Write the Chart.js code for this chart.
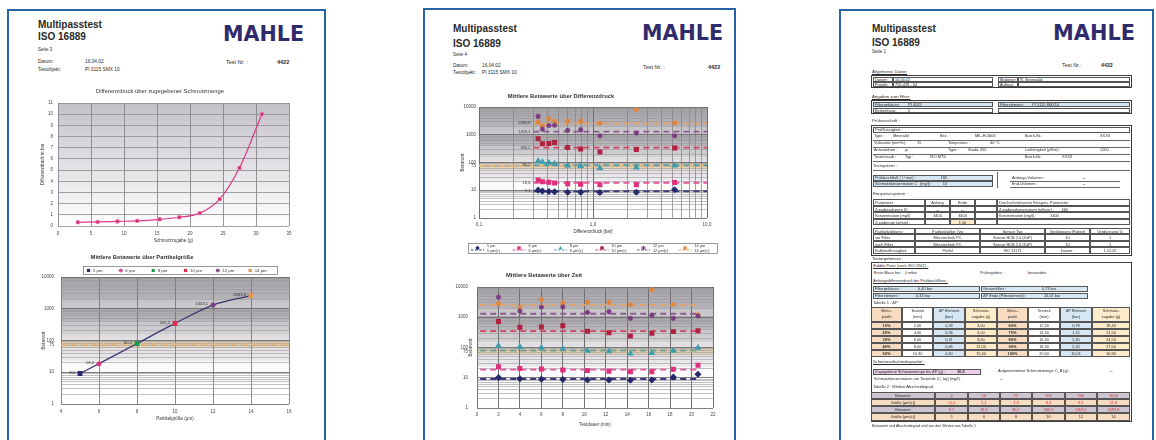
<!DOCTYPE html>
<html lang="de">
<head>
<meta charset="utf-8">
<title>Multipasstest ISO 16889</title>
<script src="https://cdn.jsdelivr.net/npm/chart.js@4.4.1/dist/chart.umd.min.js"></script>
<style>
  html, body { margin:0; padding:0; background:#fff; }
  body { position:relative; width:1156px; height:440px; overflow:hidden; font-family:"Liberation Sans", Arial, sans-serif; color:#2a2a2a; }
  .page { position:absolute; box-sizing:border-box; border:2px solid #2863a5; border-bottom:none; height:460px; background:#fff; }
  .t { position:absolute; white-space:nowrap; line-height:1.15; }
  .bx { position:absolute; box-sizing:border-box; overflow:hidden; white-space:nowrap; }
  .logo { position:absolute; font-family:"DejaVu Sans", sans-serif; font-weight:bold; line-height:1; color:#302b6c; transform-origin:0 0; white-space:nowrap; }
  canvas { position:absolute; }
</style>
</head>
<body>
<div class="page" style="left:7px;top:9px;width:319px"></div>
<div class="page" style="left:423px;top:8px;width:313px"></div>
<div class="page" style="left:839px;top:9px;width:315px"></div>
<canvas id="c1" width="270" height="165" style="left:30px;top:86px"></canvas>
<canvas id="c2" width="270" height="178" style="left:30px;top:248px"></canvas>
<canvas id="c3" width="285" height="172" style="left:440px;top:86px"></canvas>
<canvas id="c4" width="285" height="168" style="left:440px;top:266px"></canvas>
<script>
// ---------- test data ----------
const testTime  = [2.0, 4.0, 6.0, 8.0, 10.3, 12.3, 14.3, 16.3, 18.3, 20.6];        // min
const dirtAdded = [3.0, 6.0, 9.0, 12.0, 15.4, 18.4, 21.5, 24.5, 27.5, 30.9];       // g
const deltaP    = [0.33, 0.36, 0.41, 0.46, 0.60, 0.78, 1.15, 2.40, 5.20, 10.01];   // bar

const particleSizes = [5, 6, 8, 10, 12, 14];
const sizeNames = ['5 µm', '6 µm', '8 µm', '10 µm', '12 µm', '14 µm'];
const betaMean = [9.1, 18.6, 80.2, 345.2, 1303.1, 2583.8];
const betaTarget = 75;

// beta value per particle size at each measuring point
const beta5  = [10.1, 9.3, 9.0, 8.8, 8.4, 8.4, 8.3, 8.4, 10.5, 13.0];
const beta6  = [23.2, 20.3, 19.3, 18.1, 17.2, 16.5, 15.9, 15.9, 19.0, 26.0];
const beta8  = [114, 105, 98, 90, 78, 75, 63, 66, 78, 98];
const beta10 = [720, 470, 480, 525, 345, 305, 240, 295, 335, 355];
const beta12 = [4600, 1600, 2150, 2200, 1450, 1530, 915, 1150, 915, 1100];
const beta14 = [2850, 2070, 3800, 3000, 3100, 3100, 2600, 8100, 2650, 1200];
const betaSeries = [beta5, beta6, beta8, beta10, beta12, beta14];

// axis tick labels
const betaTickValues = [1, 10, 75, 100, 1000, 10000];
const betaTickLabels = ['1', '10', '75', '100', '1000', '10000'];
const dpLogTickValues = [0.1, 1, 10];
const dpLogTickLabels = ['0,1', '1,0', '10,0'];

// table 2 (mean filtration ratio)
const betaLevels = ['2', '10', '75', '100', '200', '1000'];
const sizeAtBeta = ['<5,0', '5,1', '7,9', '8,3', '9,1', '11,6'];

// ---------- styles ----------
const FONT = 'Liberation Sans';
Chart.defaults.font.family = FONT;
Chart.defaults.color = '#444';
const sizeColors = ['#27286f', '#e0307e', '#1f9a4f', '#e02a4c', '#7d3b83', '#e8954c'];
const sizeStyles = ['rect', 'star', 'rect', 'rect', 'star', 'rect'];
const betaColors = ['#26276c', '#e02f7c', '#3a9eab', '#b0223f', '#7a3a80', '#e0843c'];
const betaStyles = ['rectRot', 'rect', 'triangle', 'rect', 'star', 'star'];
const meanColors = ['#383a80', '#e4589a', '#5aa3ad', '#cf4560', '#8c5c91', '#e3a066'];
const targetColor = '#e9b878';
const betaBands = [
  { from: 2000, to: 10000, c0: '#a7a5a9', c1: '#b5b3b7' },
  { from: 1100, to: 2000,  c0: '#c4c2c6', c1: '#cccacd' },
  { from: 400,  to: 1100,  c0: '#aaa8ac', c1: '#b9b7bb' },
  { from: 150,  to: 400,   c0: '#c7c5c9', c1: '#d3d1d4' },
  { from: 100,  to: 150,   c0: '#dddbdd', c1: '#e4e2e4' },
  { from: 55,   to: 100,   c0: '#dac7aa', c1: '#e7d9c4' },
  { from: 22,   to: 55,    c0: '#e3e1e4', c1: '#ecebed' },
  { from: 1,    to: 22,    c0: '#fafafa', c1: '#ffffff' }
];

const de = (v, d) => v.toFixed(d).replace('.', ',');
const isDecade = v => Math.abs(Math.log10(v) - Math.round(Math.log10(v))) < 1e-9;
const labelOf = (v, vals, labels) => {
  const i = vals.findIndex(u => Math.abs(u - v) / u < 1e-6);
  return i >= 0 ? labels[i] : '';
};
function decadeTicks(min, max) {
  const out = [];
  for (let e = Math.floor(Math.log10(min) + 1e-9); Math.pow(10, e) <= max * 1.0001; e++) {
    for (let m = 1; m <= 9; m++) {
      const v = parseFloat((m * Math.pow(10, e)).toPrecision(6));
      if (v >= min * 0.9999 && v <= max * 1.0001) out.push(v);
    }
  }
  return out;
}

// ---------- plugins ----------
const plotBackground = {
  id: 'plotBackground',
  beforeDraw(chart, args, o) {
    const { ctx, chartArea: a } = chart;
    ctx.save();
    if (o.gradient) {
      const g = ctx.createLinearGradient(0, a.top, 0, a.bottom);
      g.addColorStop(0, o.gradient[0]);
      g.addColorStop(1, o.gradient[1]);
      ctx.fillStyle = g;
      ctx.fillRect(a.left, a.top, a.width, a.height);
    }
    if (o.bands) {
      const y = chart.scales.y;
      o.bands.forEach(b => {
        const y0 = y.getPixelForValue(b.to), y1 = y.getPixelForValue(b.from);
        const g = ctx.createLinearGradient(0, y0, 0, y1);
        g.addColorStop(0, b.c0);
        g.addColorStop(1, b.c1);
        ctx.fillStyle = g;
        ctx.fillRect(a.left, y0, a.width, y1 - y0);
      });
    }
    ctx.restore();
  }
};

function drawMarker(ctx, style, x, y, r, color) {
  ctx.save();
  ctx.fillStyle = color; ctx.strokeStyle = color; ctx.lineWidth = 1;
  ctx.beginPath();
  if (style === 'rect') { ctx.rect(x - r, y - r, 2 * r, 2 * r); ctx.fill(); }
  else if (style === 'rectRot') { ctx.moveTo(x, y - r * 1.3); ctx.lineTo(x + r * 1.3, y); ctx.lineTo(x, y + r * 1.3); ctx.lineTo(x - r * 1.3, y); ctx.closePath(); ctx.fill(); }
  else if (style === 'triangle') { ctx.moveTo(x, y - r * 1.2); ctx.lineTo(x + r * 1.1, y + r * 0.8); ctx.lineTo(x - r * 1.1, y + r * 0.8); ctx.closePath(); ctx.fill(); }
  else if (style === 'star') {
    for (let k = 0; k < 4; k++) {
      const a = k * Math.PI / 4;
      ctx.moveTo(x + Math.cos(a) * r * 1.3, y + Math.sin(a) * r * 1.3);
      ctx.lineTo(x - Math.cos(a) * r * 1.3, y - Math.sin(a) * r * 1.3);
    }
    ctx.stroke();
  } else { ctx.arc(x, y, r, 0, 2 * Math.PI); ctx.fill(); }
  ctx.restore();
}

// framed legend drawn from the datasets that carry a legendText
const boxLegend = {
  id: 'boxLegend',
  afterDraw(chart, args, o) {
    const { ctx } = chart;
    const items = chart.data.datasets.filter(d => d.legendText);
    ctx.save();
    ctx.fillStyle = '#fff';
    ctx.fillRect(o.left, o.top, o.width, o.height);
    ctx.strokeStyle = '#707070'; ctx.lineWidth = 0.7;
    ctx.strokeRect(o.left + 0.5, o.top + 0.5, o.width, o.height);
    const step = o.width / items.length;
    ctx.font = `${o.fontSize}px ${FONT}`;
    ctx.textBaseline = 'middle';
    items.forEach((d, i) => {
      const x0 = o.left + i * step + o.inset;
      const cy = o.top + o.height / 2 + 0.5;
      if (o.line) {
        ctx.strokeStyle = d.meanColor; ctx.lineWidth = 1.1; ctx.setLineDash([2.5, 1.5]);
        ctx.beginPath(); ctx.moveTo(x0, cy + 1.5); ctx.lineTo(x0 + o.symbolWidth, cy + 1.5); ctx.stroke();
        ctx.setLineDash([]);
        drawMarker(ctx, d.pointStyle, x0 + o.symbolWidth / 2, cy - 0.5, 1.7, d.pointBackgroundColor);
      } else {
        drawMarker(ctx, d.pointStyle, x0 + 1.5, cy, 1.6, d.pointBackgroundColor);
      }
      ctx.fillStyle = '#333';
      const lines = Array.isArray(d.legendText) ? d.legendText : [d.legendText];
      lines.forEach((s, k) => ctx.fillText(s, x0 + o.textOffset, cy + (k - (lines.length - 1) / 2) * o.fontSize * 1.1));
    });
    ctx.restore();
  }
};

// value text placed left of the first element of a dataset
const valueLabels = {
  id: 'valueLabels',
  afterDatasetsDraw(chart, args, o) {
    const { ctx } = chart;
    ctx.save();
    ctx.font = `${o.fontSize}px ${FONT}`;
    ctx.fillStyle = '#333';
    ctx.textAlign = 'right';
    ctx.textBaseline = 'middle';
    chart.data.datasets.forEach((d, i) => {
      if (!d.valueLabel) return;
      const el = chart.getDatasetMeta(i).data[0];
      ctx.fillText(d.valueLabel, el.x - o.gap, el.y + (o.dy || 0));
    });
    ctx.restore();
  }
};

const tickFont = { size: 4.5 };
const axisTitleFont = { size: 4.5 };

function betaAxis(width, titlePad, tickPad) {
  return {
    type: 'logarithmic', min: 1, max: 10000,
    afterBuildTicks: s => {
      const vals = decadeTicks(1, 10000);
      if (!vals.includes(betaTarget)) vals.push(betaTarget);
      s.ticks = vals.sort((a, b) => a - b).map(v => ({ value: v }));
    },
    afterFit: s => { s.width = width; },
    ticks: { autoSkip: false, padding: tickPad, font: tickFont, color: '#444',
             callback: v => labelOf(v, betaTickValues, betaTickLabels) },
    grid: { drawTicks: false,
            color: c => c.tick.value === betaTarget ? 'rgba(0,0,0,0)' : (isDecade(c.tick.value) ? '#706e72' : '#99979b'),
            lineWidth: c => isDecade(c.tick.value) ? 0.9 : 0.6 },
    border: { display: false },
    title: { display: true, text: 'Betawert', font: axisTitleFont, color: '#333', padding: { top: titlePad, bottom: 0 } }
  };
}

const base = { responsive: false, animation: false, devicePixelRatio: 1, events: [] };

// ---------- chart 1: differential pressure over added contaminant ----------
new Chart(document.getElementById('c1'), {
  type: 'scatter',
  data: { datasets: [{
    data: dirtAdded.map((x, i) => ({ x, y: deltaP[i] })),
    showLine: true, borderColor: '#d8388a', borderWidth: 1.2, cubicInterpolationMode: 'monotone',
    pointStyle: 'rect', pointRadius: 2.4, pointBackgroundColor: '#d2206f', pointBorderColor: '#e98bb7', pointBorderWidth: 0.8
  }] },
  options: { ...base,
    layout: { padding: { top: 17, right: 11, left: 0, bottom: 0 } },
    plugins: { legend: { display: false }, tooltip: { enabled: false },
               plotBackground: { gradient: ['#c5c1c9', '#ffffff'] } },
    scales: {
      x: { type: 'linear', min: 0, max: 35, afterFit: s => { s.height = 25; },
           ticks: { stepSize: 5, padding: 5, font: tickFont, maxRotation: 0 },
           grid: { drawTicks: false, color: '#7d7b80', lineWidth: 0.8 }, border: { display: false },
           title: { display: true, text: 'Schmutzzugabe (g)', font: axisTitleFont, color: '#333', padding: { top: 0, bottom: 7.3 } } },
      y: { min: 0, max: 11, afterFit: s => { s.width = 28; },
           ticks: { stepSize: 1, padding: 5, font: tickFont },
           grid: { drawTicks: false, color: '#8e8c91', lineWidth: 0.8 }, border: { display: false },
           title: { display: true, text: 'Differenzdruck in bar', font: axisTitleFont, color: '#333', padding: { top: 10.3, bottom: 0 } } }
    }
  },
  plugins: [plotBackground]
});

// ---------- chart 2: mean beta values over particle size ----------
const c2Sets = particleSizes.map((s, i) => ({
  data: [{ x: s, y: betaMean[i] }],
  pointStyle: sizeStyles[i], pointRadius: 2.6, pointBorderWidth: 1.2,
  pointBackgroundColor: sizeColors[i], pointBorderColor: sizeColors[i],
  legendText: sizeNames[i], valueLabel: de(betaMean[i], 1)
}));
c2Sets.push({
  data: particleSizes.map((x, i) => ({ x, y: betaMean[i] })),
  showLine: true, borderColor: '#3d3873', borderWidth: 1.3, pointRadius: 0, cubicInterpolationMode: 'monotone'
});
c2Sets.push({
  data: [{ x: 4, y: betaTarget }, { x: 16, y: betaTarget }],
  showLine: true, borderColor: targetColor, borderWidth: 1.8, borderDash: [6, 4], pointRadius: 0
});
new Chart(document.getElementById('c2'), {
  type: 'scatter',
  data: { datasets: c2Sets },
  options: { ...base,
    layout: { padding: { top: 29, right: 11, left: 0, bottom: 0 } },
    plugins: { legend: { display: false }, tooltip: { enabled: false },
               plotBackground: { bands: betaBands },
               boxLegend: { left: 53, top: 18, width: 194, height: 8, fontSize: 4.3, inset: 4, textOffset: 6 },
               valueLabels: { fontSize: 4.2, gap: 5, dy: -1 } },
    scales: {
      x: { type: 'linear', min: 4, max: 16, afterFit: s => { s.height = 22; },
           ticks: { stepSize: 2, padding: 5.5, font: tickFont, maxRotation: 0 },
           grid: { drawTicks: false, color: '#6f6d72', lineWidth: 0.8 }, border: { display: false },
           title: { display: true, text: 'Partikelgröße (µm)', font: axisTitleFont, color: '#333', padding: { top: 0, bottom: 4.3 } } },
      y: betaAxis(31, 10.6, 7)
    }
  },
  plugins: [plotBackground, boxLegend, valueLabels]
});

// ---------- charts 3 and 4: beta values over differential pressure / time ----------
function betaScatterSets(xs, meanFrom, xMax, targetFrom, targetTo, withTexts) {
  const sets = betaSeries.map((vals, i) => ({
    data: xs.map((x, k) => ({ x, y: vals[k] })).filter(p => p.x <= xMax),
    pointStyle: betaStyles[i], pointRadius: 2.6, pointBorderWidth: 1.3,
    pointBackgroundColor: betaColors[i], pointBorderColor: betaColors[i],
    meanColor: meanColors[i], legendText: withTexts ? [sizeNames[i], sizeNames[i] + '(c)'] : null
  }));
  betaMean.forEach((m, i) => sets.push({
    data: [{ x: meanFrom, y: m }, { x: xMax, y: m }],
    showLine: true, borderColor: meanColors[i], borderWidth: 1.8, borderDash: [6, 4], pointRadius: 0,
    valueLabel: withTexts ? de(m, 1) : null
  }));
  sets.push({
    data: [{ x: targetFrom, y: betaTarget }, { x: targetTo, y: betaTarget }],
    showLine: true, borderColor: targetColor, borderWidth: 1.8, borderDash: [6, 4], pointRadius: 0
  });
  return sets;
}

new Chart(document.getElementById('c3'), {
  type: 'scatter',
  data: { datasets: betaScatterSets(deltaP, 0.3, 10, 0.1, 10, true) },
  options: { ...base,
    layout: { padding: { top: 21, right: 18, left: 0, bottom: 18 } },
    plugins: { legend: { display: false }, tooltip: { enabled: false },
               plotBackground: { bands: betaBands },
               boxLegend: { left: 28, top: 157, width: 249, height: 10, fontSize: 3.8, inset: 3, textOffset: 16, symbolWidth: 13, line: true },
               valueLabels: { fontSize: 4, gap: 3, dy: 0 } },
    scales: {
      x: { type: 'logarithmic', min: 0.1, max: 10,
           afterBuildTicks: s => { s.ticks = decadeTicks(0.1, 10).map(v => ({ value: v })); },
           afterFit: s => { s.height = 22; },
           ticks: { autoSkip: false, maxRotation: 0, padding: 4.5, font: tickFont,
                    callback: v => labelOf(v, dpLogTickValues, dpLogTickLabels) },
           grid: { drawTicks: false, color: c => isDecade(c.tick.value) ? '#5c5a5f' : '#7b797e',
                   lineWidth: c => isDecade(c.tick.value) ? 0.9 : 0.7 },
           border: { display: false },
           title: { display: true, text: 'Differenzdruck [bar]', font: axisTitleFont, color: '#333', padding: { top: 0, bottom: 5.3 } } },
      y: betaAxis(39, 20.3, 3)
    }
  },
  plugins: [plotBackground, boxLegend, valueLabels]
});

const lastTime = testTime[testTime.length - 1];
new Chart(document.getElementById('c4'), {
  type: 'scatter',
  data: { datasets: betaScatterSets(testTime, 0.3, lastTime, 0.3, lastTime, false) },
  options: { ...base,
    layout: { padding: { top: 21, right: 12, left: 0, bottom: 0 } },
    plugins: { legend: { display: false }, tooltip: { enabled: false },
               plotBackground: { bands: betaBands } },
    scales: {
      x: { type: 'linear', min: 0, max: 22, afterFit: s => { s.height = 26; },
           ticks: { stepSize: 2, padding: 4, font: tickFont, maxRotation: 0 },
           grid: { drawTicks: false, color: '#605e63', lineWidth: 0.9 }, border: { display: false },
           title: { display: true, text: 'Testdauer (min)', font: axisTitleFont, color: '#333', padding: { top: 0, bottom: 6.3 } } },
      y: betaAxis(37, 28, 9)
    }
  },
  plugins: [plotBackground]
});

// ---------- report pages (text) ----------
function el(cls, css, text) {
  const d = document.createElement('div');
  d.className = cls;
  Object.assign(d.style, css);
  if (text != null) d.textContent = text;
  document.body.appendChild(d);
  return d;
}
function txt(x, y, s, size = 4.2, f = '') {
  return el('t', { left: x + 'px', top: y + 'px', fontSize: size + 'px',
    fontWeight: f.includes('b') ? 'bold' : 'normal',
    textDecoration: f.includes('u') ? 'underline' : 'none',
    color: f.includes('r') ? '#d42a2a' : '#2a2a2a' }, s);
}
function box(x, y, w, h, bg = 'transparent', bw = 0.7, bc = '#3a3a3a') {
  return el('bx', { left: x + 'px', top: y + 'px', width: w + 'px', height: h + 'px', background: bg, border: `${bw}px solid ${bc}` });
}
function cell(x, y, w, h, s, o = {}) {
  const d = box(x, y, w, h, o.bg || 'transparent', o.bw == null ? 0.6 : o.bw, o.bc || '#555');
  if (s != null && s !== '') {
    d.innerHTML = s;
    Object.assign(d.style, { fontSize: (o.fs || 3.9) + 'px', lineHeight: (o.lh || h - 1.2) + 'px',
      textAlign: o.al || 'center', paddingLeft: o.al === 'left' ? '1px' : '0',
      color: o.red ? '#d42a2a' : '#2a2a2a', fontWeight: o.b ? 'bold' : 'normal' });
  }
  return d;
}
function hline(x, y, w, c = '#666') { el('bx', { left: x + 'px', top: y + 'px', width: w + 'px', height: '0.6px', background: c }); }
function logo(x, y, w, h) {
  const fs = h / 0.729;
  const d = el('logo', { left: x + 'px', top: (y - 0.117 * fs) + 'px', fontSize: fs + 'px' }, 'MAHLE');
  const wNow = d.getBoundingClientRect().width;
  d.style.transform = `scaleX(${w / wNow})`;
}
function header(x, titleTop, isoTop, seiteTop, seite) {
  txt(x, titleTop, 'Multipasstest', 10, 'b');
  txt(x, isoTop, 'ISO 16889', 10, 'b');
  txt(x, seiteTop, seite, 4.5);
}

// page 3 of the report
header(38, 19, 31, 47, 'Seite 3');
txt(38, 59, 'Datum:', 4.8); txt(85, 59, '16.04.02', 4.8);
txt(38, 67, 'Testobjekt:', 4.8); txt(85, 67, 'PI 3115 SMX 10', 4.8);
txt(226, 59, 'Test Nr. :', 5.5); txt(277, 59, '4422', 5.5, 'b');
logo(223, 26, 81, 16);
el('t', { left: '60px', width: '200px', top: '87.8px', fontSize: '5.8px', textAlign: 'center', color: '#333' }, 'Differenzdruck über zugegebener Schmutzmenge');
el('t', { left: '42px', width: '200px', top: '254.3px', fontSize: '5.8px', textAlign: 'center', color: '#333', fontWeight: 'bold' }, 'Mittlere Betawerte über Partikelgröße');

// page 4 of the report
header(453, 23, 38, 52, 'Seite 4');
txt(453, 63, 'Datum:', 4.8); txt(482, 63, '16.04.02', 4.8);
txt(453, 70, 'Testobjekt:', 4.8); txt(482, 70, 'PI 3115 SMX 10', 4.8);
txt(643, 64, 'Test Nr. :', 5.5); txt(708, 64, '4422', 5.5, 'b');
logo(642, 25, 81, 15);
el('t', { left: '461px', width: '200px', top: '92.8px', fontSize: '5.8px', textAlign: 'center', color: '#333', fontWeight: 'bold' }, 'Mittlere Betawerte über Differenzdruck');
el('t', { left: '444px', width: '200px', top: '271.8px', fontSize: '5.8px', textAlign: 'center', color: '#333', fontWeight: 'bold' }, 'Mittlere Betawerte über Zeit');

// page 1 of the report: test data sheet
header(872, 23, 37, 49, 'Seite 1');
txt(1062, 62, 'Test Nr.:', 5.3); txt(1101, 62, '4422', 5.3, 'b');
logo(1053, 25, 82, 16);

const BLUE = '#d6e7f3', PINK = '#ecd0ea', PEACH = '#f8dcc2', YELLOW = '#fdebc9', GREY = '#cdc6d2';

txt(872, 70, 'Allgemeine Daten:', 4.3, 'u');
box(871, 75, 261, 13, '#fff', 0.9);
cell(873, 76.5, 20, 5, 'Datum:', { al: 'left' }); cell(893, 76.5, 100, 5, '16.04.02', { al: 'left' });
cell(998, 76.5, 20, 5, 'Bediener:', { al: 'left' }); cell(1018, 76.5, 112, 5, 'R. Sennwald', { al: 'left' });
cell(873, 82, 20, 5, 'Projekt:', { al: 'left' }); cell(893, 82, 100, 5, '750-428 - 04', { al: 'left' });
cell(998, 82, 20, 5, 'Auftrag:', { al: 'left' }); cell(1018, 82, 112, 5, '', {});

txt(872, 95, 'Angaben zum Filter:', 4.3, 'u');
box(871, 100, 261, 14, '#fff', 0.9);
cell(873, 101.5, 120, 5.5, 'Filtergehäuse: &nbsp;&nbsp;&nbsp;&nbsp;&nbsp;&nbsp; PI 4015', { al: 'left', bg: BLUE });
cell(998, 101.5, 132, 5.5, 'Filterelement: &nbsp;&nbsp;&nbsp;&nbsp;&nbsp;&nbsp; PI 3115 SMX10', { al: 'left', bg: BLUE });
cell(873, 107.5, 120, 5.5, 'Bemerkung: &nbsp;&nbsp;&nbsp;&nbsp;&nbsp;&nbsp;&nbsp;&nbsp;&nbsp; 5', { al: 'left' });
cell(998, 107.5, 132, 5.5, '', {});

txt(872, 119, 'Prüfvorschrift :', 4.3);
box(871, 125, 261, 131, '#fff', 0.9);
cell(873, 127, 257, 5.5, 'Prüfflüssigkeit :', { al: 'left', fs: 4.1 });
[[134, [[874, 'Type :'], [893, 'Mineralöl'], [940, 'Bez. :'], [975, 'MIL-H-5606'], [1025, 'Batch-Nr.:'], [1100, 'XXXX']]],
 [141, [[874, 'Viskosität (mm²/s) :'], [917, '15'], [948, 'Temperatur :'], [990, '40 °C']]],
 [148, [[874, 'Antistatikum :'], [905, 'ja'], [948, 'Type :'], [968, 'Stadis 450'], [1025, 'Leitfähigkeit (pS/m) :'], [1100, '1200']]],
 [155, [[874, 'Testerstaub :'], [905, 'Typ :'], [930, 'ISO MTD'], [1025, 'Batch-Nr.:'], [1062, 'XXXX']]]
].forEach(([y, items]) => { items.forEach(([x, s]) => txt(x, y, s, 3.9)); hline(873, y + 5.5, 257); });
txt(873, 164, 'Testsystem :', 4.3);
hline(873, 170, 257);
cell(873, 175, 120, 5.5, 'Prüfdurchfluß ( l / min) : &nbsp;&nbsp;&nbsp;&nbsp;&nbsp;&nbsp;&nbsp;&nbsp;&nbsp;&nbsp;&nbsp;&nbsp;&nbsp;&nbsp;&nbsp;&nbsp;&nbsp;&nbsp;&nbsp;&nbsp;&nbsp; 180', { al: 'left', bg: BLUE });
cell(873, 181, 120, 5.5, 'Schmutzkonzentration C<sub style="font-size:2.5px">b</sub> (mg/l) : &nbsp;&nbsp;&nbsp;&nbsp;&nbsp;&nbsp;&nbsp;&nbsp; 10', { al: 'left', bg: BLUE });
txt(1012, 175.5, 'Anfangs-Volumen :', 3.9); txt(1083, 175.5, '--', 3.9); hline(1010, 180.5, 110);
txt(1012, 181.5, 'End-Volumen :', 3.9); txt(1083, 181.5, '--', 3.9); hline(1010, 186.5, 110);
el('bx', { left: '997px', top: '172px', width: '0.6px', height: '16px', background: '#666' });
txt(873, 192, 'Einspeisesystem :', 4.3);
const feedCols = [873, 925, 950, 975, 997, 1130];
[['Parameter', 'Anfang', 'Ende', '', 'Durchschnittswerte Einspeis. Parameter'],
 ['Zugabevolumen (l)', '--', '--', '', 'Zugabevolumenstrom (ml/min) : &nbsp;&nbsp;&nbsp;&nbsp;&nbsp; 460'],
 ['Konzentration (mg/l)', '3400', '3400', '', 'Konzentration (mg/l) : &nbsp;&nbsp;&nbsp;&nbsp;&nbsp;&nbsp;&nbsp;&nbsp;&nbsp;&nbsp;&nbsp; 3400'],
 ['Zugaberate (g/min) :', '', '1,50', '', '']
].forEach((row, r) => row.forEach((s, c) => cell(feedCols[c], 199 + r * 6.5, feedCols[c + 1] - feedCols[c], 6.5, s,
  { al: c === 0 || c === 4 ? 'left' : 'center', bg: r === 3 && c === 2 ? YELLOW : 'transparent' })));
const countCols = [873, 915, 980, 1045, 1090, 1130];
[['Partikelzählung :', 'Partikelzähler Typ', 'Sensor Typ', 'Verdünnung (Faktor)', 'Verdünnung %'],
 ['vor Filter', 'Messtechnik PC', 'Sensor HCB 2.0 (ZaP)', '10', '1'],
 ['nach Filter', 'Messtechnik PC', 'Sensor HCB 2.0 (ZaP)', '10', '1'],
 ['Kalibrierflüssigkeit', 'Prüföl', 'ISO 11171', 'Datum :', '1.01.02']
].forEach((row, r) => row.forEach((s, c) => cell(countCols[c], 227.5 + r * 6.5, countCols[c + 1] - countCols[c], 6.5, s,
  { al: c === 0 ? 'left' : 'center' })));

txt(872, 257, 'Testergebnisse :', 4.3);
box(871, 262, 261, 160, '#fff', 0.9);
txt(873, 263.5, 'Bubble Point (nach ISO 2942) :', 4, 'u');
txt(874, 270.5, 'Erste Blase bei :', 3.9); txt(905, 270.5, '0 mbar', 3.9);
txt(980, 270.5, 'Prüfergebnis :', 3.9); txt(1028, 270.5, 'bestanden', 3.9);
txt(873, 279, 'Anfangsdifferenzdruck bei Prüfdurchfluss :', 4, 'u');
cell(873, 286, 107, 6, 'Filtergehäuse : &nbsp;&nbsp;&nbsp;&nbsp;&nbsp;&nbsp;&nbsp;&nbsp;&nbsp;&nbsp;&nbsp;&nbsp;&nbsp;&nbsp; 0,40 bar', { al: 'left', bg: BLUE });
cell(981, 286, 107, 6, 'Gesamtfilter : &nbsp;&nbsp;&nbsp;&nbsp;&nbsp;&nbsp;&nbsp;&nbsp;&nbsp;&nbsp;&nbsp;&nbsp;&nbsp;&nbsp;&nbsp;&nbsp;&nbsp;&nbsp;&nbsp;&nbsp;&nbsp;&nbsp;&nbsp;&nbsp;&nbsp;&nbsp;&nbsp;&nbsp;&nbsp;&nbsp;&nbsp; 0,73 bar', { al: 'left', bg: BLUE });
cell(873, 292.5, 107, 6, 'Filterelement : &nbsp;&nbsp;&nbsp;&nbsp;&nbsp;&nbsp;&nbsp;&nbsp;&nbsp;&nbsp;&nbsp;&nbsp;&nbsp; 0,33 bar', { al: 'left', bg: BLUE });
cell(981, 292.5, 107, 6, 'ΔP Ende (Filterelement) : &nbsp;&nbsp;&nbsp;&nbsp;&nbsp;&nbsp;&nbsp;&nbsp;&nbsp;&nbsp;&nbsp;&nbsp;&nbsp;&nbsp; 10,01 bar', { al: 'left', bg: BLUE });
txt(873, 300.5, 'Tabelle 1 : ΔP', 4);

// table 1: measuring points 10 % ... 100 %
const t1Cols = [871, 902, 933, 965, 997, 1028, 1060, 1092, 1130];
const t1Bg = [PEACH, '#fff', BLUE, YELLOW];
const t1Head = ['Mess-<br>punkt', 'Testzeit<br>(min)', 'ΔP Element<br>(bar)', 'Schmutz-<br>zugabe (g)'];
for (let c = 0; c < 8; c++) {
  cell(t1Cols[c], 307, t1Cols[c + 1] - t1Cols[c], 15, t1Head[c % 4], { bg: t1Bg[c % 4], lh: 5.5, fs: 3.9 });
}
for (let r = 0; r < 5; r++) {
  for (let half = 0; half < 2; half++) {
    const k = r + half * 5;
    const vals = [((k + 1) * 10) + '%', de(testTime[k], 2), de(deltaP[k], 2), de(dirtAdded[k], 2)];
    vals.forEach((s, c) => {
      const ci = half * 4 + c;
      cell(t1Cols[ci], 322 + r * 7, t1Cols[ci + 1] - t1Cols[ci], 7, s, { bg: t1Bg[c], fs: 3.9, b: c === 0 });
    });
  }
}

txt(873, 360, 'Schmutzaufnahmekapazität :', 4, 'u');
cell(873, 368.5, 108, 6, 'Zugegebene Schmutzmenge bis ΔP (g) : &nbsp;&nbsp;&nbsp;&nbsp;&nbsp;&nbsp;&nbsp;&nbsp;&nbsp; <b>' + de(dirtAdded[dirtAdded.length - 1], 1) + '</b>', { al: 'left', bg: PINK });
txt(998, 369, 'Aufgenommene Schmutzmenge C_A (g) :', 3.9); txt(1110, 369, '--', 3.9);
txt(874, 376.5, 'Schmutzkonzentration am Testende (C_bg) (mg/l) :', 3.9); txt(1000, 376.5, '--', 3.9);
txt(873, 384.5, 'Tabelle 2 : Mittlere Abscheidegrad', 4);

// table 2: mean filtration ratio
const t2Cols = [871, 935, 968, 1000, 1032, 1065, 1097, 1130];
const t2Rows = [
  ['Betawert', betaLevels, GREY, true],
  ['Größe (µm(c))', sizeAtBeta, PEACH, true],
  ['Betawert', betaMean.map(v => de(v, 1)), GREY, true],
  ['Größe (µm(c))', particleSizes.map(String), PEACH, false]
];
t2Rows.forEach(([label, vals, bg, red], r) => {
  const y = 391.5 + r * 7.3;
  cell(t2Cols[0], y, t2Cols[1] - t2Cols[0], 7.3, label, { bg, fs: 3.9 });
  vals.forEach((s, c) => cell(t2Cols[c + 1], y, t2Cols[c + 2] - t2Cols[c + 1], 7.3, s, { bg, fs: 3.9, red }));
});
txt(872, 423.5, 'Betawerte und Abscheidegrad sind von den Werten aus Tabelle 1', 3.6);
</script>
</body>
</html>
